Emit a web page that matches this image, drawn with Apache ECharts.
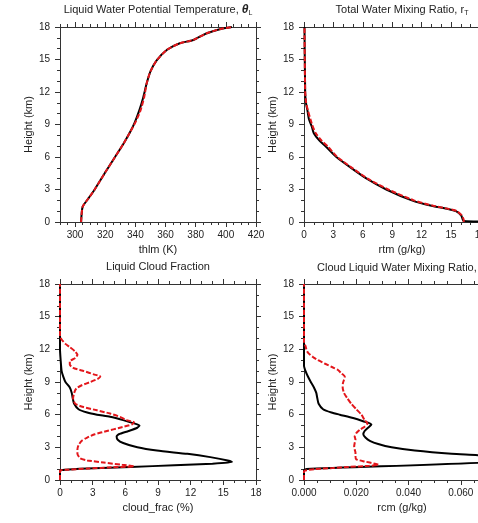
<!DOCTYPE html>
<html>
<head>
<meta charset="utf-8">
<script src="https://cdn.jsdelivr.net/npm/echarts@6/dist/echarts.min.js"></script>
<style>
  html, body { margin: 0; padding: 0; background: #fff; }
  #main { width: 478px; height: 523px; }
</style>
</head>
<body>
<div id="main"></div>
<script>
// 液态水位温 thlm (K)
let thlmHeight = [0, 1.4, 2.2, 3, 4.8, 6, 7.2, 8.3, 9.2, 10.3, 11.5, 12.8, 13.9, 14.9, 15.9, 16.5, 16.8, 17.4, 17.8, 18];
let thlmBlack = [304, 305, 309, 313, 321, 326.5, 332, 336.5, 339.6, 342.6, 345.2, 347.5, 350, 354, 361, 369.5, 378.5, 387, 396, 404];
let thlmRed = [304, 305, 309, 313, 321, 326.5, 332, 336.5, 340, 343.4, 345.8, 347.5, 350, 354, 361, 369.5, 378.5, 387, 396, 404];
let thlmTicks = [300, 320, 340, 360, 380, 400, 420];

// 总水混合比 rtm (g/kg)
let rtmHeightBlack = [0, 0.1, 0.6, 1.0, 1.2, 1.5, 2, 3, 4, 5, 6, 7, 7.5, 8.2, 8.8, 9.5, 10.3, 11, 12, 18];
let rtmBlack = [24, 16.3, 16.05, 15.5, 14.7, 13, 11, 8.4, 6.4, 4.8, 3.3, 2.2, 1.6, 1.0, 0.8, 0.5, 0.35, 0.2, 0.12, 0.05];
let rtmHeightRed = [0, 0.2, 0.6, 1.0, 1.2, 1.5, 2, 3, 4, 5, 6, 7, 7.5, 8.2, 8.8, 9.5, 10.3, 11, 12, 18];
let rtmRed = [16.3, 16.3, 16.1, 15.6, 14.8, 13.2, 11.2, 8.6, 6.5, 4.9, 3.4, 2.4, 1.8, 1.2, 0.9, 0.65, 0.4, 0.22, 0.12, 0.05];

// 液态云量 cloud_frac (%)
let cfHeightBlack = [0, 0.85, 0.95, 1.05, 1.2, 1.35, 1.5, 1.65, 1.8, 2.1, 2.4, 2.7, 3.0, 3.4, 3.7, 4.0, 4.2, 4.5, 4.8, 5.0,
    5.2, 5.5, 5.8, 6.0, 6.2, 6.5, 7.0, 7.5, 8.0, 8.5, 9.0, 9.5, 10.0, 11.0, 12.0, 18];
let cfBlack = [0, 0, 0.5, 2.5, 6.5, 10.5, 14, 15.8, 15.4, 13.8, 11.7, 8.9, 7.1, 5.8, 5.3, 5.2, 5.4, 6.3, 7.1, 7.3,
    6.8, 5.8, 4.6, 3.4, 2.5, 1.7, 1.3, 1.17, 1.08, 0.9, 0.5, 0.3, 0.15, 0.06, 0, 0];
let cfHeightRed = [0, 0.85, 0.95, 1.05, 1.15, 1.26, 1.4, 1.6, 1.8, 2.0, 2.4, 2.8, 3.2, 3.6, 3.9, 4.2, 4.5, 4.8, 5.1, 5.3,
    5.5, 5.8, 6.1, 6.4, 6.7, 7.0, 7.5, 8.0, 8.4, 8.7, 9.0, 9.3, 9.5, 9.7, 10.0, 10.3, 10.6, 10.9, 11.2, 11.5,
    11.8, 12.2, 12.5, 12.9, 13.2, 18];
let cfRed = [0, 0, 0.8, 2.5, 4.5, 6.8, 5.7, 4.0, 2.5, 1.85, 1.6, 1.6, 1.7, 2.0, 2.5, 3.2, 4.3, 5.5, 6.6, 6.8,
    6.1, 5.5, 4.6, 3.4, 2.15, 1.4, 1.2, 1.3, 1.5, 2.0, 2.8, 3.5, 3.7, 3.1, 2.2, 1.2, 0.9, 0.9, 1.4, 1.6,
    1.4, 0.9, 0.5, 0.15, 0, 0];

// 云液态水混合比 rcm (g/kg)
let rcmHeightBlack = [0, 0.9, 1.0, 1.85, 2.25, 2.4, 2.7, 3.0, 3.3, 3.6, 3.9, 4.2, 4.5, 4.8, 5.1, 5.4, 5.7, 6.0, 6.2, 6.5,
    7.0, 7.5, 8.0, 8.5, 9.0, 9.5, 10.0, 10.5, 18];
let rcmBlack = [0, 0, 0.001, 0.085, 0.068, 0.0565, 0.0424, 0.0335, 0.0284, 0.0252, 0.0235, 0.0227, 0.0232, 0.0245, 0.0258, 0.0226, 0.0188, 0.0137, 0.0105, 0.0073,
    0.0056, 0.0051, 0.0047, 0.0038, 0.0026, 0.0015, 0.0006, 0, 0];
let rcmHeightRed = [0, 0.8, 0.9, 1.0, 1.1, 1.2, 1.3, 1.4, 1.5, 1.7, 1.9, 2.2, 2.5, 2.8, 3.1, 3.4, 3.7, 4.0, 4.3, 4.6,
    4.9, 5.2, 5.5, 6.0, 6.5, 7.0, 7.5, 8.0, 8.5, 8.9, 9.2, 9.5, 9.8, 10.1, 10.4, 10.7, 11.0, 11.3, 11.7, 12.0,
    12.3, 12.6, 18];
let rcmRed = [0, 0, 0.001, 0.004, 0.011, 0.017, 0.025, 0.0285, 0.0271, 0.0232, 0.02, 0.0197, 0.0197, 0.0194, 0.0192, 0.0194, 0.0197, 0.0194, 0.02, 0.0213,
    0.0232, 0.0243, 0.0232, 0.022, 0.02, 0.0181, 0.0166, 0.0153, 0.0148, 0.0149, 0.0153, 0.0156, 0.0143, 0.013, 0.0105, 0.0079, 0.0054, 0.0034, 0.0015, 0.0009,
    0.0006, 0, 0];

let FONT = 'Liberation Sans, Arial, Helvetica, sans-serif';
let INK = '#222';

function pairs(xs, hs) {
    let out = [];
    for (let i = 0; i < xs.length; i++) {
        out.push([xs[i], hs[i]]);
    }
    return out;
}

function baseAxis(gridIndex, position) {
    return {
        type: 'value',
        gridIndex: gridIndex,
        position: position,
        axisLine: { show: true, onZero: false, lineStyle: { color: '#333', width: 1 } },
        axisTick: { show: true, inside: false, length: 5, lineStyle: { color: '#333', width: 1 } },
        minorTick: { show: false },
        splitLine: { show: false },
        axisLabel: { show: false }
    };
}

function xPair(gridIndex, min, max, interval, minorSplit, name, fmt) {
    let bottom = baseAxis(gridIndex, 'bottom');
    let top = baseAxis(gridIndex, 'top');
    [bottom, top].forEach(function (a) {
        a.min = min;
        a.max = max;
        if (interval != null) a.interval = interval;
        if (minorSplit) a.minorTick = { show: true, splitNumber: minorSplit, length: 3, lineStyle: { color: '#333', width: 1 } };
    });
    bottom.axisLabel = { show: true, margin: 8, color: INK, fontSize: 10, fontFamily: FONT, formatter: fmt };
    bottom.name = name;
    bottom.nameLocation = 'middle';
    bottom.nameGap = 22;
    bottom.nameTextStyle = { color: INK, fontSize: 11, fontFamily: FONT };
    return [bottom, top];
}

function yPair(gridIndex) {
    let left = baseAxis(gridIndex, 'left');
    let right = baseAxis(gridIndex, 'right');
    [left, right].forEach(function (a) {
        a.min = 0;
        a.max = 18;
        a.interval = 3;
        a.minorTick = { show: true, splitNumber: 3, length: 3, lineStyle: { color: '#333', width: 1 } };
    });
    left.axisLabel = { show: true, margin: 10, color: INK, fontSize: 10, fontFamily: FONT };
    left.name = 'Height (km)';
    left.nameLocation = 'middle';
    left.nameRotate = 90;
    left.nameGap = 26;
    left.nameTextStyle = { color: INK, fontSize: 11, fontFamily: FONT };
    return [left, right];
}

let myChart = echarts.init(document.getElementById('main'), null, { renderer: 'canvas' });

let grids = [
    { left: 60, top: 27, width: 196, height: 195 },
    { left: 304, top: 27, width: 196, height: 195 },
    { left: 60, top: 284, width: 196, height: 196 },
    { left: 304, top: 284, width: 196, height: 196 },
    { left: 60, top: 27, width: 196, height: 195 }   // thlm 小刻度叠加
];
grids.forEach(function (g) {
    g.outerBoundsMode = 'none';
    g.containLabel = false;
});

// 左上 thlm 轴从 290 起，主刻度用 customValues
let thlmX = xPair(0, 290, 420, null, 0, 'thlm (K)', null);
thlmX.forEach(function (a) {
    a.axisTick.customValues = thlmTicks;
});
thlmX[0].axisLabel.customValues = thlmTicks;

let thlmMinor = xPair(4, 290, 420, 5, 0, '', null);
thlmMinor.forEach(function (a) {
    a.axisLine = { show: false, onZero: false };
    a.axisTick.length = 3;
    a.axisLabel = { show: false };
    a.name = '';
});

let xAxes = []
    .concat(thlmX)
    .concat(xPair(1, 0, 20, 3, 3, 'rtm (g/kg)', null))
    .concat(xPair(2, 0, 18, 3, 3, 'cloud_frac (%)', null))
    .concat(xPair(3, 0, 0.075, 0.02, 4, 'rcm (g/kg)', function (v) { return v.toFixed(3); }))
    .concat(thlmMinor);

let yAxes = [].concat(yPair(0), yPair(1), yPair(2), yPair(3));
yAxes.push({ type: 'value', gridIndex: 4, min: 0, max: 18, show: false });

function lineSeries(idx, data, isRed) {
    return {
        type: 'line',
        xAxisIndex: idx,
        yAxisIndex: idx,
        data: data,
        showSymbol: false,
        symbol: 'none',
        smooth: 0.2,
        animation: false,
        z: isRed ? 3 : 2,
        lineStyle: isRed
            ? { color: '#e3161b', width: 2, type: [5, 2] }
            : { color: '#000', width: 2, type: 'solid' }
    };
}

let titleStyle = {
    color: INK,
    fontSize: 11,
    fontWeight: 'normal',
    fontFamily: FONT,
    rich: {
        th: { color: INK, fontSize: 12, fontWeight: 'bold', fontStyle: 'italic', fontFamily: FONT },
        r: { color: INK, fontSize: 11, fontFamily: FONT },
        sub: { color: INK, fontSize: 7, fontFamily: FONT, padding: [7, 0, 0, 0] }
    }
};

let option = {
    backgroundColor: '#fff',
    animation: false,
    title: [
        { text: 'Liquid Water Potential Temperature, {th|θ}{sub|L}', left: 158, top: 3, textAlign: 'center', padding: 0, textStyle: titleStyle },
        { text: 'Total Water Mixing Ratio, {r|r}{sub|T}', left: 402, top: 3, textAlign: 'center', padding: 0, textStyle: titleStyle },
        { text: 'Liquid Cloud Fraction', left: 158, top: 261, textAlign: 'center', padding: 0, textStyle: titleStyle },
        { text: 'Cloud Liquid Water Mixing Ratio, {r|r}{sub|c}', left: 402, top: 261, textAlign: 'center', padding: 0, textStyle: titleStyle }
    ],
    grid: grids,
    xAxis: xAxes,
    yAxis: yAxes,
    series: [
        lineSeries(0, pairs(thlmBlack, thlmHeight), false),
        lineSeries(0, pairs(thlmRed, thlmHeight), true),
        lineSeries(1, pairs(rtmBlack, rtmHeightBlack), false),
        lineSeries(1, pairs(rtmRed, rtmHeightRed), true),
        lineSeries(2, pairs(cfBlack, cfHeightBlack), false),
        lineSeries(2, pairs(cfRed, cfHeightRed), true),
        lineSeries(3, pairs(rcmBlack, rcmHeightBlack), false),
        lineSeries(3, pairs(rcmRed, rcmHeightRed), true)
    ]
};

// 每个面板 bottom/top 两根 x 轴、left/right 两根 y 轴，序列挂在 bottom/left 那根上
option.series.forEach(function (s) {
    let panel = s.xAxisIndex;
    s.xAxisIndex = panel * 2;
    s.yAxisIndex = panel * 2;
});

myChart.setOption(option);
window.addEventListener('resize', function () {
    myChart.resize();
});
</script>
</body>
</html>
